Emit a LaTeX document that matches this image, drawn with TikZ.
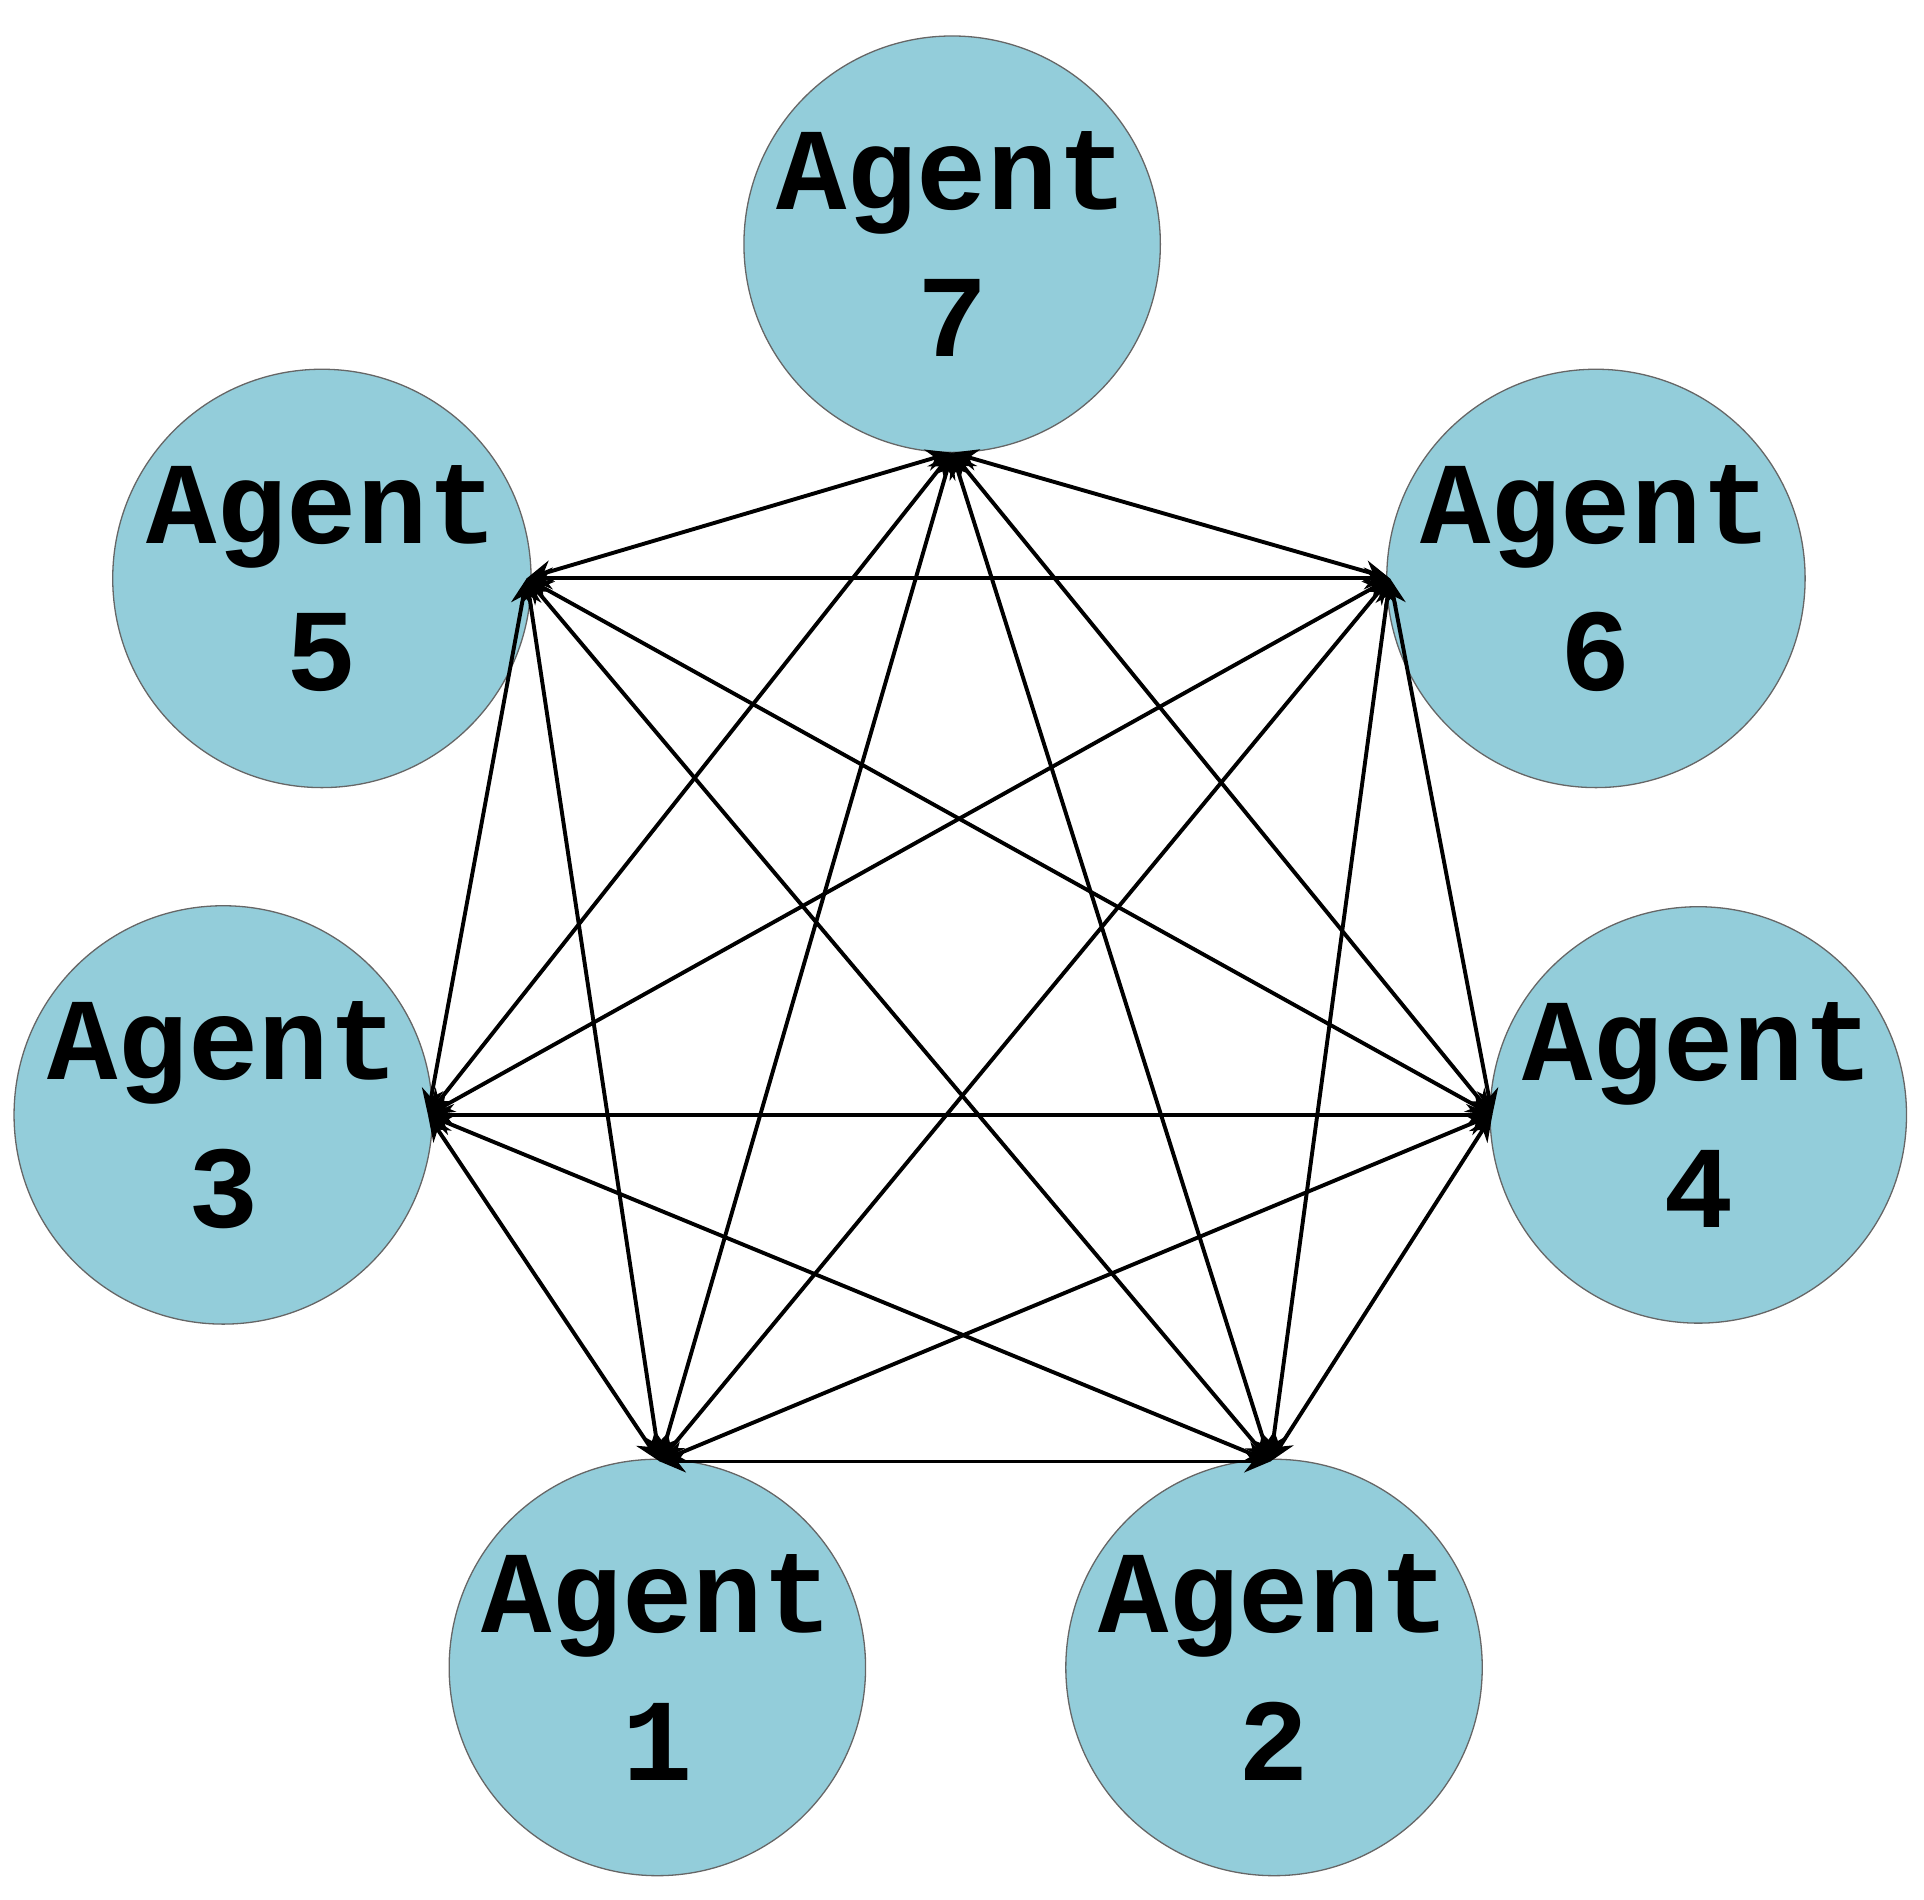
\documentclass[tikz,border=0pt]{standalone}
\usepackage{fontspec}
\setmainfont{Liberation Mono}
\usetikzlibrary{arrows.meta}
\definecolor{agentfill}{HTML}{93CDDA}
\begin{document}
\begin{tikzpicture}[x=0.01cm,y=-0.01cm,
  agent/.style={circle,fill=agentfill,draw=black!60,line width=0.3pt,minimum size=3.26cm,inner sep=0pt,align=center,font=\fontsize{27}{34}\selectfont\bfseries},
  link/.style={{Stealth[length=6pt,width=5pt]}-{Stealth[length=6pt,width=5pt]},line width=0.9pt}]
\useasboundingbox (0,0) rectangle (1560,1540);
\node[agent] (n7) at (772,198) {Agent\\7};
\node[agent] (n5) at (261,469) {Agent\\5};
\node[agent] (n6) at (1294,469) {Agent\\6};
\node[agent] (n3) at (181,904) {Agent\\3};
\node[agent] (n4) at (1377,904) {Agent\\4};
\node[agent] (n1) at (533,1352) {Agent\\1};
\node[agent] (n2) at (1033,1352) {Agent\\2};
\coordinate (h7) at (772,367);
\coordinate (h5) at (427,469);
\coordinate (h6) at (1127,469);
\coordinate (h3) at (347,904);
\coordinate (h4) at (1210,904);
\coordinate (h1) at (535,1185);
\coordinate (h2) at (1030,1185);
\foreach \a/\b in {7/5,7/6,7/3,7/4,7/1,7/2,5/6,5/3,5/4,5/1,5/2,6/3,6/4,6/1,6/2,3/4,3/1,3/2,4/1,4/2,1/2}
  \draw[link] (h\a) -- (h\b);
\end{tikzpicture}
\end{document}
